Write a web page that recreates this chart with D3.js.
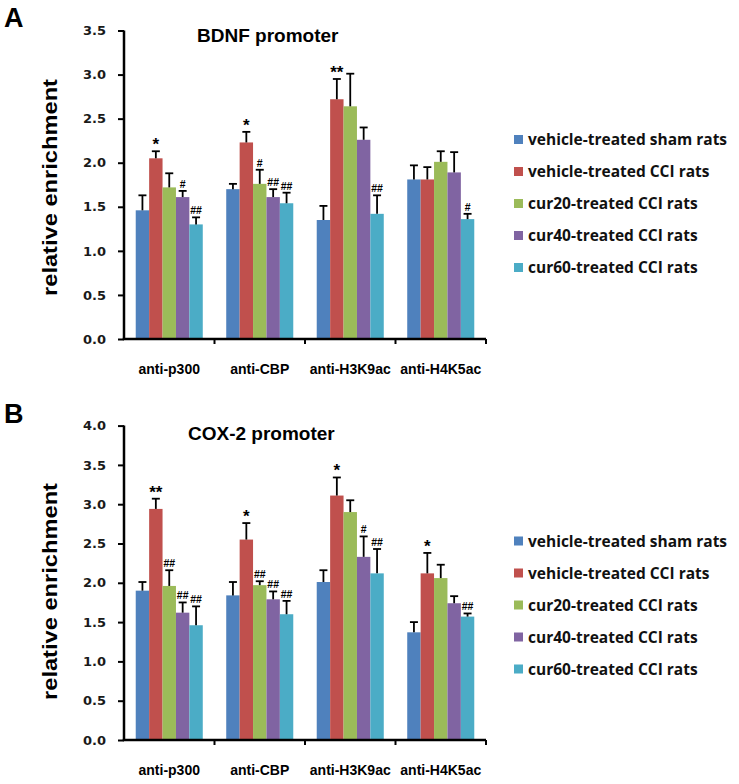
<!DOCTYPE html>
<html>
<head>
<meta charset="utf-8">
<script src="https://cdn.jsdelivr.net/npm/d3@7"></script>
<style>
  body { margin: 0; background: #fff; }
  svg { display: block; }
</style>
</head>
<body>
<svg width="739" height="784"></svg>
<script>
const categories = ["anti-p300", "anti-CBP", "anti-H3K9ac", "anti-H4K5ac"];
const seriesNames = [
  "vehicle-treated sham rats",
  "vehicle-treated CCI rats",
  "cur20-treated CCI rats",
  "cur40-treated CCI rats",
  "cur60-treated CCI rats"
];
const colors = ["#4F81BD", "#C0504D", "#9BBB59", "#8064A2", "#4BACC6"];

// panel A, BDNF promoter (rows = series, columns = categories)
const bdnfMean = [
  [1.46, 1.70, 1.35, 1.81],
  [2.05, 2.23, 2.72, 1.81],
  [1.72, 1.76, 2.64, 2.01],
  [1.61, 1.61, 2.26, 1.89],
  [1.30, 1.54, 1.42, 1.36]
];
const bdnfErr = [
  [0.17, 0.06, 0.16, 0.16],
  [0.08, 0.12, 0.23, 0.14],
  [0.16, 0.16, 0.37, 0.12],
  [0.07, 0.09, 0.14, 0.23],
  [0.08, 0.12, 0.21, 0.06]
];
const bdnfMarks = [
  ["", "", "", ""],
  ["*", "*", "**", ""],
  ["", "#", "", ""],
  ["#", "##", "", ""],
  ["##", "##", "##", "#"]
];
const bdnfTicks = [0, 0.5, 1.0, 1.5, 2.0, 2.5, 3.0, 3.5];

// panel B, COX-2 promoter
const cox2Mean = [
  [1.90, 1.84, 2.01, 1.37],
  [2.94, 2.55, 3.11, 2.12],
  [1.96, 1.97, 2.90, 2.06],
  [1.62, 1.79, 2.33, 1.74],
  [1.46, 1.60, 2.12, 1.57]
];
const cox2Err = [
  [0.11, 0.17, 0.15, 0.13],
  [0.13, 0.21, 0.23, 0.26],
  [0.20, 0.05, 0.15, 0.17],
  [0.13, 0.10, 0.26, 0.09],
  [0.24, 0.17, 0.31, 0.04]
];
const cox2Marks = [
  ["", "", "", ""],
  ["**", "*", "*", "*"],
  ["##", "##", "", ""],
  ["##", "##", "#", ""],
  ["##", "##", "##", "##"]
];
const cox2Ticks = [0, 0.5, 1.0, 1.5, 2.0, 2.5, 3.0, 3.5, 4.0];

var svg = d3.select("svg");

var x0 = d3.scaleBand()
      .domain(categories)
      .range([124, 486])
      .padding(0);
var x1 = d3.scaleBand()
      .domain(d3.range(seriesNames.length))
      .range([0, x0.bandwidth()])
      .paddingInner(0)
      .paddingOuter(0.875);

function drawPanel(p) {
  var yScale = d3.scaleLinear()
        .domain([0, p.max])
        .range([p.bottom, p.top]);

  var g = svg.append("g");

  // panel letter
  svg.append("text")
      .attr("x", 4).attr("y", p.letterY)
      .attr("font-family", "Liberation Sans, Arial, sans-serif")
      .attr("font-weight", "bold").attr("font-size", 27)
      .text(p.letter);

  // title
  svg.append("text")
      .attr("x", p.titleX).attr("y", p.titleY)
      .attr("font-family", "Liberation Sans, Arial, sans-serif")
      .attr("font-weight", "bold").attr("font-size", 19)
      .text(p.title);

  // y label
  svg.append("text")
      .attr("transform", "translate(57," + p.labelY + ") rotate(-90)")
      .attr("text-anchor", "middle")
      .attr("font-family", "Liberation Sans, Arial, sans-serif")
      .attr("font-weight", "bold").attr("font-size", 20)
      .attr("textLength", 217)
      .attr("lengthAdjust", "spacingAndGlyphs")
      .text("relative enrichment");

  var rows = [];
  p.mean.forEach(function (row, s) {
    row.forEach(function (v, c) {
      rows.push({ s: s, cat: categories[c], v: v, e: p.err[s][c], m: p.marks[s][c] });
    });
  });

  // bars
  g.selectAll("rect.bar")
    .data(rows)
    .enter()
    .append("rect")
      .attr("class", "bar")
      .attr("x", d => x0(d.cat) + x1(d.s))
      .attr("y", d => yScale(d.v))
      .attr("width", x1.bandwidth())
      .attr("height", d => p.bottom - yScale(d.v))
      .attr("fill", d => colors[d.s]);

  // error bars
  var eb = g.selectAll("g.err")
    .data(rows)
    .enter()
    .append("g")
      .attr("class", "err")
      .attr("transform", d => "translate(" + (x0(d.cat) + x1(d.s) + x1.bandwidth() / 2) + ",0)");
  eb.append("line")
      .attr("y1", d => yScale(d.v))
      .attr("y2", d => yScale(d.v + d.e))
      .attr("stroke", "#000").attr("stroke-width", 1.8);
  eb.append("line")
      .attr("x1", -4).attr("x2", 4)
      .attr("y1", d => yScale(d.v + d.e))
      .attr("y2", d => yScale(d.v + d.e))
      .attr("stroke", "#000").attr("stroke-width", 1.8);

  // significance marks
  eb.filter(d => d.m !== "")
    .append("text")
      .attr("text-anchor", "middle")
      .attr("y", d => yScale(d.v + d.e) - (d.m[0] === "*" ? 1 : 3))
      .attr("font-family", "Liberation Sans, Arial, sans-serif")
      .attr("font-size", d => d.m[0] === "*" ? 17 : 10.5)
      .attr("font-weight", "bold")
      .attr("fill", "#000")
      .text(d => d.m);

  // y axis
  var yAxis = d3.axisLeft(yScale)
        .tickValues(p.ticks)
        .tickFormat(d3.format(".1f"))
        .tickSize(6)
        .tickPadding(12);
  var ya = svg.append("g")
      .attr("transform", "translate(124,0)")
      .call(yAxis);
  ya.select(".domain").attr("stroke-width", 2.5).attr("d", "M0," + p.top + "V" + p.bottom);
  ya.selectAll(".tick line").attr("stroke-width", 2);
  ya.selectAll(".tick text")
      .attr("font-family", "DejaVu Sans, Verdana, sans-serif")
      .attr("font-weight", "bold").attr("font-size", 13)
      .attr("fill", "#1a1a1a");

  // x axis
  var xAxis = d3.axisBottom(x0)
        .tickSize(0)
        .tickPadding(25);
  var xa = svg.append("g")
      .attr("transform", "translate(0," + p.bottom + ")")
      .call(xAxis);
  xa.select(".domain").attr("stroke-width", 2.5).attr("d", "M122.75,0H486");
  xa.selectAll(".tick text")
      .attr("font-family", "Liberation Sans, Arial, sans-serif")
      .attr("font-weight", "bold").attr("font-size", 14)
      .attr("fill", "#000");
  xa.selectAll(".sep")
    .data(categories.slice(1).concat(["end"]))
    .enter()
    .append("line")
      .attr("class", "sep")
      .attr("x1", (d, i) => 124 + (i + 1) * x0.step())
      .attr("x2", (d, i) => 124 + (i + 1) * x0.step())
      .attr("y1", 0).attr("y2", 5)
      .attr("stroke", "#000").attr("stroke-width", 2);

  // legend
  var lg = svg.append("g")
      .selectAll("g")
      .data(seriesNames)
      .enter()
      .append("g")
      .attr("transform", (d, i) => "translate(514," + (p.legendY + i * 32) + ")");
  lg.append("rect")
      .attr("x", 0).attr("y", -5)
      .attr("width", 9).attr("height", 9)
      .attr("fill", (d, i) => colors[i]);
  lg.append("text")
      .attr("x", 14).attr("y", 0)
      .attr("dy", "0.35em")
      .attr("font-family", "Open Sans, sans-serif")
      .attr("font-weight", "bold").attr("font-size", 15.5)
      .attr("fill", "#111")
      .text(d => d);
}

drawPanel({
  letter: "A", letterY: 27, title: "BDNF promoter", titleX: 197, titleY: 42, labelY: 187.5,
  mean: bdnfMean, err: bdnfErr, marks: bdnfMarks, ticks: bdnfTicks,
  max: 3.5, top: 30.5, bottom: 339, legendY: 140
});

drawPanel({
  letter: "B", letterY: 423, title: "COX-2 promoter", titleX: 188, titleY: 440, labelY: 591.5,
  mean: cox2Mean, err: cox2Err, marks: cox2Marks, ticks: cox2Ticks,
  max: 4.0, top: 425.6, bottom: 740, legendY: 541.5
});
</script>
</body>
</html>
